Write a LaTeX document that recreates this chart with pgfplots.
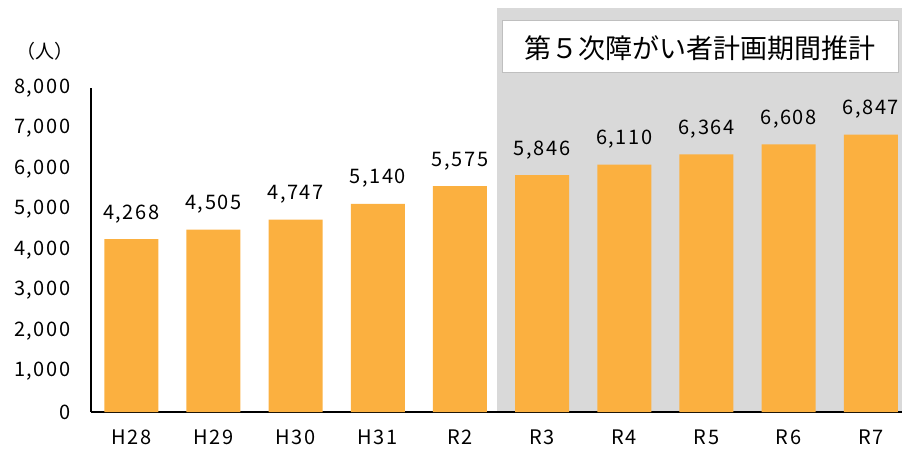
\documentclass[border=0pt]{standalone}
\usepackage{fontspec}
\setmainfont{Noto Sans CJK JP}
\newfontfamily\numfont[LetterSpace=8]{Noto Sans CJK JP}
\usepackage{pgfplots}
\pgfplotsset{compat=1.18}
\usetikzlibrary{backgrounds}
\definecolor{barorange}{HTML}{FBB040}
\definecolor{bggray}{HTML}{D9D9D9}
\definecolor{boxedge}{HTML}{BFBFBF}
\begin{document}
\begin{tikzpicture}[x=1pt,y=1pt]
\begin{axis}[
  name=ax,
  scale only axis, width=811pt, height=324pt,
  xmin=-0.49, xmax=9.38, ymin=0, ymax=8000,
  axis lines=left, axis line style={-, line width=1.5pt, black},
  ytick={0,1000,...,8000},
  xtick={0,...,9},
  xticklabels={H28,H29,H30,H31,R2,R3,R4,R5,R6,R7},
  major tick length=0pt,
  clip=false,
  /pgf/number format/assume math mode=true,
  /pgf/number format/.cd, fixed, 1000 sep={,}, /pgfplots/.cd,
  ticklabel style={font=\numfont\fontsize{20}{20}\selectfont},
  yticklabel style={anchor=east, xshift=-17pt},
  xticklabel style={anchor=base, yshift=-32pt},
  ybar, bar width=54pt,
  nodes near coords,
  nodes near coords style={font=\numfont\fontsize{20}{20}\selectfont, anchor=base, yshift=20pt, inner sep=0pt, /pgf/number format/assume math mode=true},
]
\addplot[fill=barorange, draw=none] coordinates {
(0,4268) (1,4505) (2,4747) (3,5140) (4,5575) (5,5846) (6,6110) (7,6364) (8,6608) (9,6847)
};
\end{axis}
\begin{scope}[shift={(ax.south west)}, on background layer]
\fill[bggray] (406,0) rectangle (811,404);
\draw[boxedge, fill=white, line width=1pt] (411,339) rectangle (807,391);
\node[font=\fontsize{27}{27}\selectfont] at (609,364) {第５次障がい者計画期間推計};
\node[font=\fontsize{19}{19}\selectfont] at (-46,361) {（人）};
\end{scope}
\pgfresetboundingbox
\path[use as bounding box, shift={(ax.south west)}] (-91,-38) rectangle (811,412);
\end{tikzpicture}
\end{document}
